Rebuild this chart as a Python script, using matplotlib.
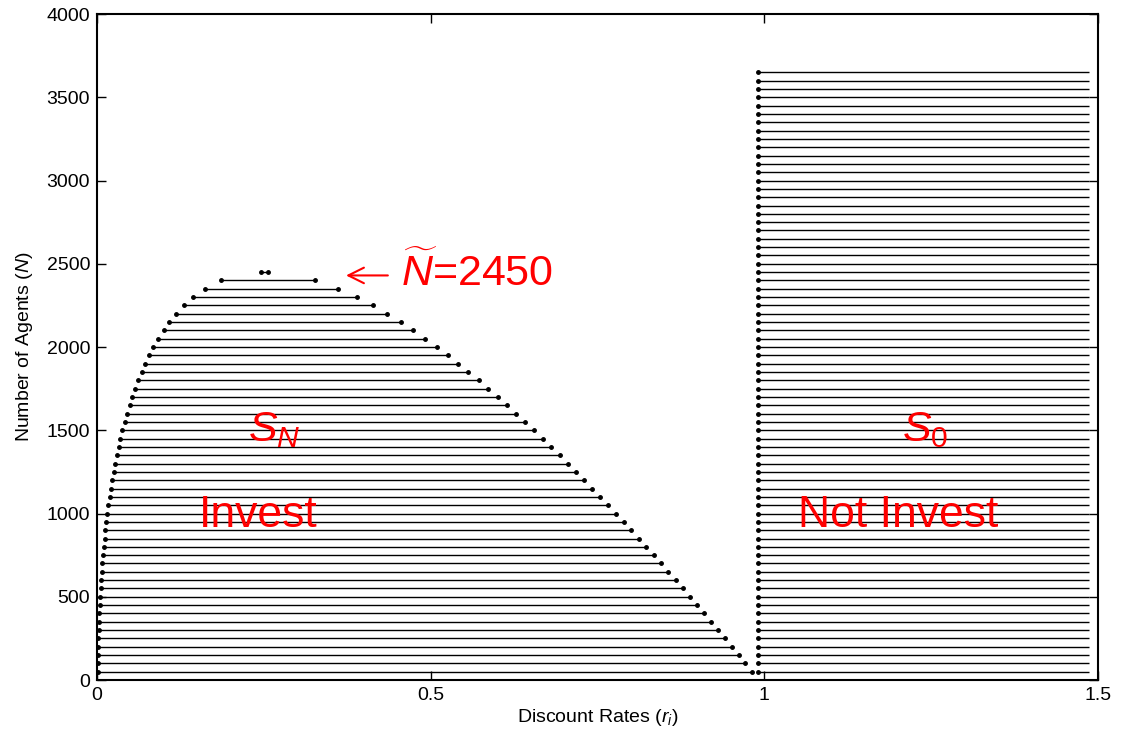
import matplotlib
matplotlib.use("Agg")
import matplotlib.pyplot as plt

plt.rcParams['font.family'] = ['Liberation Sans', 'DejaVu Sans']
plt.rcParams['mathtext.fontset'] = 'custom'
plt.rcParams['mathtext.rm'] = 'Liberation Sans'
plt.rcParams['mathtext.it'] = 'Liberation Sans:italic'
plt.rcParams['mathtext.fallback'] = 'cm'

# Invest set S_N: number of agents and the interval of discount rates
invest_n = [50, 100, 150, 200, 250, 300, 350, 400, 450, 500,
            550, 600, 650, 700, 750, 800, 850, 900, 950, 1000,
            1050, 1100, 1150, 1200, 1250, 1300, 1350, 1400, 1450, 1500,
            1550, 1600, 1650, 1700, 1750, 1800, 1850, 1900, 1950, 2000,
            2050, 2100, 2150, 2200, 2250, 2300, 2350, 2400, 2450]
invest_lo = [0.0012, 0.0012, 0.0017, 0.0022, 0.0022, 0.0027, 0.0032, 0.0037, 0.0042, 0.0047,
             0.0057, 0.0062, 0.0072, 0.0082, 0.0092, 0.0102, 0.0117, 0.0127, 0.0142, 0.0157,
             0.0172, 0.0192, 0.0212, 0.0232, 0.0252, 0.0277, 0.0302, 0.0327, 0.0352, 0.0382,
             0.0417, 0.0447, 0.0487, 0.0527, 0.0567, 0.0617, 0.0667, 0.0722, 0.0777, 0.0842,
             0.0917, 0.0997, 0.1086, 0.1186, 0.1301, 0.1441, 0.1616, 0.1861, 0.2460]
invest_hi = [0.9813, 0.9713, 0.9613, 0.9509, 0.9408, 0.9304, 0.9204, 0.9093, 0.8989, 0.8880,
             0.8780, 0.8670, 0.8560, 0.8449, 0.8344, 0.8230, 0.8120, 0.8005, 0.7890, 0.7775,
             0.7658, 0.7541, 0.7421, 0.7301, 0.7181, 0.7061, 0.6931, 0.6806, 0.6677, 0.6547,
             0.6417, 0.6282, 0.6142, 0.6007, 0.5862, 0.5717, 0.5563, 0.5413, 0.5253, 0.5093,
             0.4918, 0.4738, 0.4548, 0.4349, 0.4133, 0.3893, 0.3616, 0.3274, 0.2560]

# Not-invest set S_0
noinv_n = [50, 100, 150, 200, 250, 300, 350, 400, 450, 500,
           550, 600, 650, 700, 750, 800, 850, 900, 950, 1000,
           1050, 1100, 1150, 1200, 1250, 1300, 1350, 1400, 1450, 1500,
           1550, 1600, 1650, 1700, 1750, 1800, 1850, 1900, 1950, 2000,
           2050, 2100, 2150, 2200, 2250, 2300, 2350, 2400, 2450, 2500,
           2550, 2600, 2650, 2700, 2750, 2800, 2850, 2900, 2950, 3000,
           3050, 3100, 3150, 3200, 3250, 3300, 3350, 3400, 3450, 3500,
           3550, 3600, 3650]
noinv_lo = [0.991] * len(noinv_n)
noinv_hi = [1.486] * len(noinv_n)

fig = plt.figure(figsize=(11.24, 7.39), dpi=100)
ax = fig.add_axes([0.0863, 0.0798, 0.8906, 0.9012])

# horizontal intervals
ax.hlines(invest_n, invest_lo, invest_hi, color='black', linewidth=1.0)
ax.hlines(noinv_n, noinv_lo, noinv_hi, color='black', linewidth=1.0)

# end points
ax.plot(invest_lo, invest_n, 'k.', markersize=5)
ax.plot(invest_hi, invest_n, 'k.', markersize=5)
ax.plot(noinv_lo, noinv_n, 'k.', markersize=5)

ax.set_xlim(0, 1.5)
ax.set_ylim(0, 4000)
ax.set_xticks([0, 0.5, 1, 1.5])
ax.set_xticklabels(['0', '0.5', '1', '1.5'])
ax.set_yticks(range(0, 4001, 500))
ax.tick_params(direction='in', top=True, right=True, length=6.5, width=1,
               labelsize=14, pad=5)
for s in ax.spines.values():
    s.set_linewidth(1.5)

ax.set_xlabel('Discount Rates ($r_i$)', fontsize=14, labelpad=2)
ax.set_ylabel('Number of Agents ($N$)', fontsize=14, labelpad=8)

# labels for the sets
red = '#ff0000'
ax.text(0.266, 1500, '$S_N$', color=red, fontsize=31, ha='center', va='center')
ax.text(0.242, 990, 'Invest', color=red, fontsize=32, ha='center', va='center')
ax.text(1.241, 1500, '$S_0$', color=red, fontsize=31, ha='center', va='center')
ax.text(1.201, 990, 'Not Invest', color=red, fontsize=32, ha='center', va='center')

# marker for the largest invest set
ax.annotate('', xy=(0.369, 2430), xytext=(0.44, 2430),
            arrowprops=dict(arrowstyle='->', color=red, lw=1.5, mutation_scale=28))
ax.text(0.455, 2440, r'$\widetilde{N}$=2450', color=red, fontsize=31,
        ha='left', va='center')

fig.savefig('out.png', dpi=100)
